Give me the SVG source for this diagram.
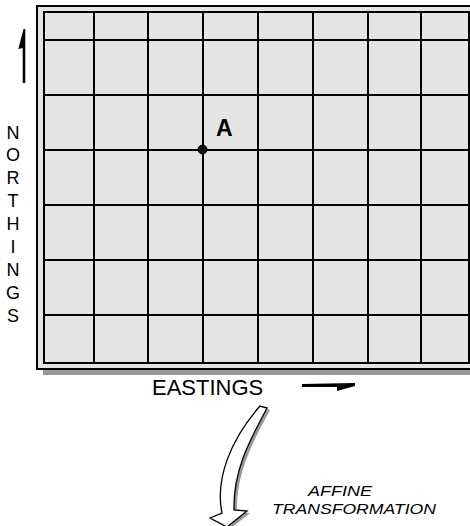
<svg xmlns="http://www.w3.org/2000/svg" width="470" height="526" viewBox="0 0 470 526">
<style>
.grid line{stroke:#000;stroke-width:2}
.lbl{font-family:"Liberation Sans",Arial,sans-serif;fill:#000}
.ns{font-size:18px;text-anchor:middle}
.it{font-size:15.5px;font-style:italic}
</style>
<rect width="470" height="526" fill="#fff"/>
<g id="map">
<rect x="37" y="6" width="440" height="363" fill="#e4e4e4" stroke="#000" stroke-width="2"/>
<rect x="43" y="370" width="430" height="5" fill="#999"/>
<g class="grid">
<line x1="44" y1="12" x2="44" y2="363"/>
<line x1="94" y1="12" x2="94" y2="363"/>
<line x1="148" y1="12" x2="148" y2="363"/>
<line x1="203" y1="12" x2="203" y2="363"/>
<line x1="258" y1="12" x2="258" y2="363"/>
<line x1="313" y1="12" x2="313" y2="363"/>
<line x1="368" y1="12" x2="368" y2="363"/>
<line x1="421" y1="12" x2="421" y2="363"/>
<line x1="469" y1="12" x2="469" y2="363"/>
<line x1="43" y1="12" x2="470" y2="12"/>
<line x1="43" y1="40" x2="470" y2="40"/>
<line x1="43" y1="95" x2="470" y2="95"/>
<line x1="43" y1="150" x2="470" y2="150"/>
<line x1="43" y1="205" x2="470" y2="205"/>
<line x1="43" y1="260" x2="470" y2="260"/>
<line x1="43" y1="315" x2="470" y2="315"/>
<line x1="43" y1="363" x2="470" y2="363"/>
</g>
</g>
<g id="pointA">
<circle cx="202.5" cy="149.5" r="4.5" fill="#111" stroke="#000" stroke-width="1"/>
<text class="lbl" x="216" y="135.5" font-size="23" font-weight="bold">A</text>
</g>
<g id="northings">
<polygon points="25.3,29 25.3,83 22.7,83 22.7,48 18.3,49 23.5,29" fill="#000"/>
<g class="lbl ns">
<text x="13" y="138.5">N</text>
<text x="13" y="161.4">O</text>
<text x="13" y="184.3">R</text>
<text x="13" y="207.2">T</text>
<text x="13" y="230.1">H</text>
<text x="13" y="253">I</text>
<text x="13" y="275.9">N</text>
<text x="13" y="298.8">G</text>
<text x="13" y="321.7">S</text>
</g>
</g>
<g id="eastings">
<text class="lbl" x="152" y="395" font-size="22">EASTINGS</text>
<polygon points="302,384 355,383 355,386 337,391 337,387 302,387" fill="#000"/>
</g>
<g id="connectors">
<path d="M 260 406 L 267 408 C 250 440, 233 470, 234 510 L 247 511 L 227 527 L 210 518 L 222 513 C 215 480, 230 440, 260 406 Z" fill="#999" transform="translate(3,2)"/>
<path d="M 260 406 L 267 408 C 250 440, 233 470, 234 510 L 247 511 L 227 527 L 210 518 L 222 513 C 215 480, 230 440, 260 406 Z" fill="#fff" stroke="#000" stroke-width="1.3" stroke-linejoin="miter"/>
</g>
<g id="affine">
<text class="lbl it" x="308" y="496" textLength="64" lengthAdjust="spacingAndGlyphs">AFFINE</text>
<text class="lbl it" x="272" y="514" textLength="164" lengthAdjust="spacingAndGlyphs">TRANSFORMATION</text>
</g>
</svg>
